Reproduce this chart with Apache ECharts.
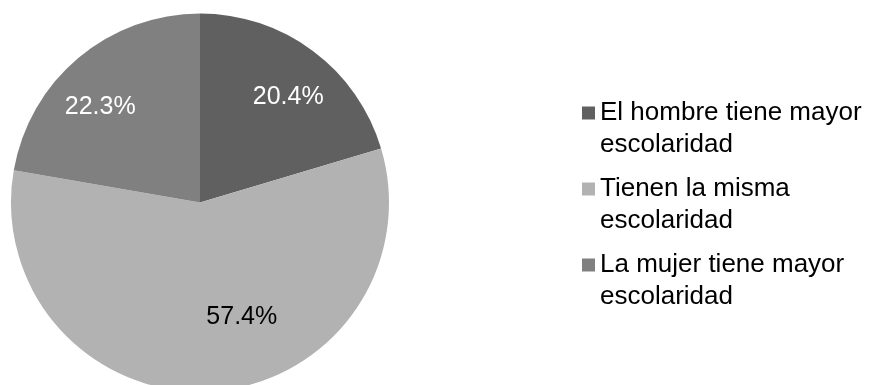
<!DOCTYPE html>
<html>
<head>
<meta charset="utf-8">
<script src="https://cdn.jsdelivr.net/npm/echarts@6/dist/echarts.min.js"></script>
<style>
  html, body { margin: 0; padding: 0; background: #ffffff; }
  #chart { width: 874px; height: 385px; }
</style>
</head>
<body>
<div id="chart"></div>
<script>
// Categories and their shares (percent)
const categories = [
  'El hombre tiene mayor\nescolaridad',
  'Tienen la misma\nescolaridad',
  'La mujer tiene mayor\nescolaridad'
];
const shares = [20.4, 57.4, 22.3];
const sliceColors = ['#606060', '#b2b2b2', '#808080'];
const labelColors = ['#ffffff', '#000000', '#ffffff'];

// Nudges for the inside labels, pushing them toward the rim of each slice
const labelNudge = [[30, -27], [36, 17], [-37, -21]];

const FONT = "'Liberation Sans', Arial, sans-serif";

const chart = echarts.init(document.getElementById('chart'), null, { renderer: 'canvas' });

chart.setOption({
  animation: false,
  color: sliceColors,
  legend: {
    orient: 'vertical',
    left: 582,
    top: 65,
    padding: 0,
    icon: 'rect',
    itemWidth: 13,
    itemHeight: 13,
    itemGap: -20,
    data: categories,
    // a blank leading line keeps the swatch level with the first text line
    formatter: function (name) { return ' \n' + name; },
    textStyle: {
      fontFamily: FONT,
      fontSize: 26,
      lineHeight: 32,
      color: '#000000'
    }
  },
  series: [{
    type: 'pie',
    center: [200, 202.5],
    radius: 189,
    startAngle: 90,
    clockwise: true,
    silent: true,
    label: {
      show: true,
      position: 'inside',
      formatter: '{c}%',
      fontFamily: FONT,
      fontSize: 25
    },
    labelLine: { show: false },
    labelLayout: function (params) {
      const n = labelNudge[params.dataIndex];
      return { dx: n[0], dy: n[1] };
    },
    data: categories.map(function (name, i) {
      return {
        name: name,
        value: shares[i],
        itemStyle: { color: sliceColors[i] },
        label: { color: labelColors[i] }
      };
    })
  }]
});
</script>
</body>
</html>
